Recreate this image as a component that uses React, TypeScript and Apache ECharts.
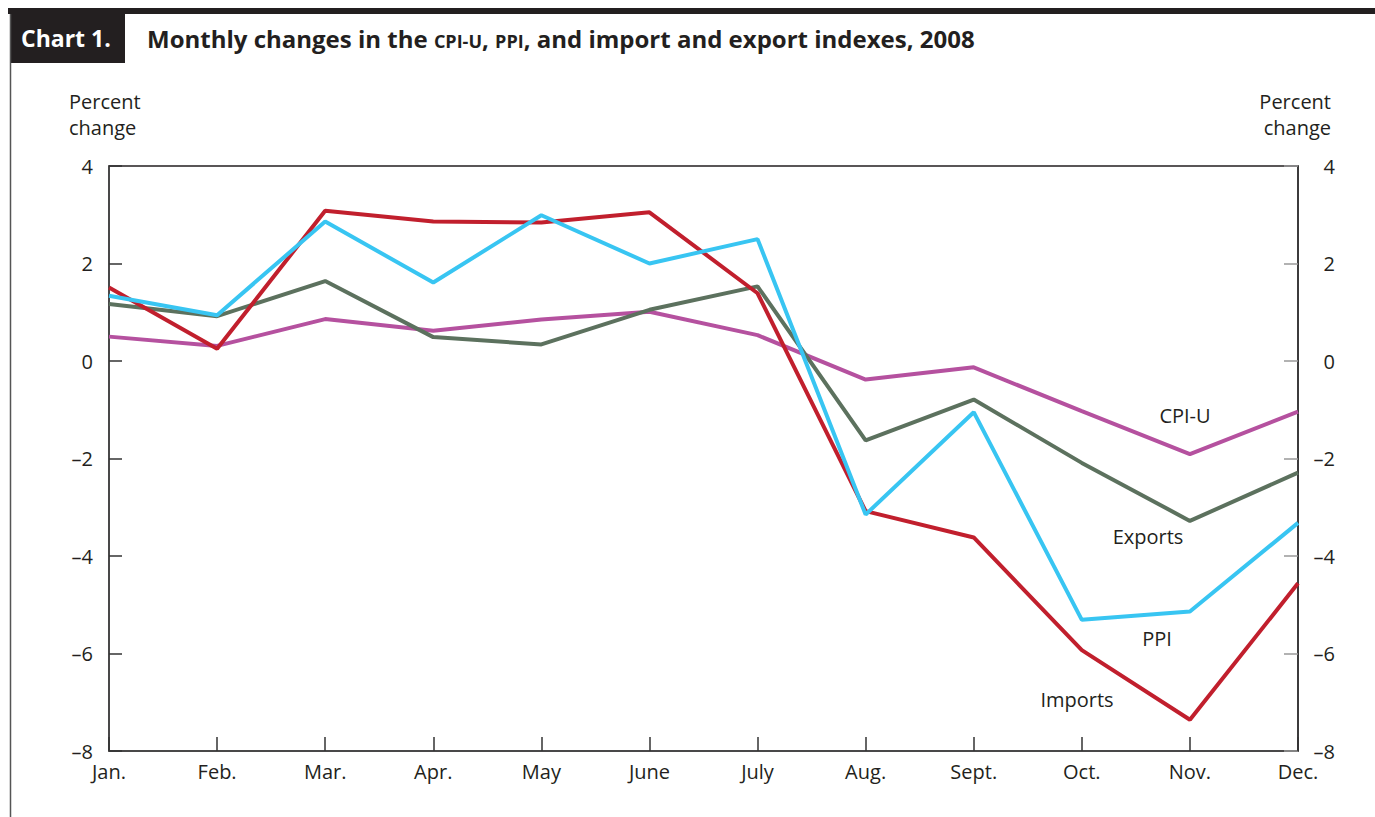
import React, { useEffect, useRef } from "react";
import * as echarts from "echarts";

const months = ["Jan.", "Feb.", "Mar.", "Apr.", "May", "June", "July", "Aug.", "Sept.", "Oct.", "Nov.", "Dec."];
const cpiU = [0.5, 0.31, 0.86, 0.62, 0.85, 1.01, 0.53, -0.38, -0.13, -1.03, -1.91, -1.04];
const ppi = [1.34, 0.94, 2.86, 1.61, 2.99, 2.0, 2.5, -3.15, -1.05, -5.31, -5.14, -3.32];
const exportsIdx = [1.17, 0.92, 1.64, 0.49, 0.34, 1.05, 1.53, -1.63, -0.79, -2.09, -3.28, -2.29];
const importsIdx = [1.51, 0.25, 3.08, 2.86, 2.84, 3.05, 1.39, -3.08, -3.62, -5.93, -7.36, -4.56];

const FONT = "'Open Sans', 'Noto Sans', sans-serif";
const TXT = "#231f20";

export default function App() {
  const ref = useRef<HTMLDivElement>(null);
  useEffect(() => {
    if (!ref.current) return;
    const chart = echarts.init(ref.current, null, { renderer: "svg" });
    const fmt = (v: number) => (v < 0 ? "\u2013" + Math.abs(v) : String(v));
    const line = (name: string, data: number[], color: string) => ({
      name,
      type: "line",
      data,
      symbol: "none",
      lineStyle: { color, width: 4 },
      itemStyle: { color },
      z: 3,
    });
    chart.setOption({
      animation: false,
      textStyle: { fontFamily: FONT },
      grid: {
        left: 109,
        right: 77,
        top: 166,
        bottom: 66,
        show: true,
        borderColor: "#231f20",
        borderWidth: 1.5,
        backgroundColor: "transparent",
      },
      xAxis: {
        type: "category",
        data: months,
        boundaryGap: false,
        axisLine: { onZero: false, lineStyle: { color: "#444", width: 1.5 } },
        axisTick: { inside: true, length: 14, lineStyle: { color: "#333", width: 1.5 } },
        axisLabel: { color: TXT, fontSize: 20, fontFamily: FONT, margin: 10, interval: 0 },
        splitLine: { show: false },
      },
      yAxis: [
        {
          type: "value",
          position: "left",
          min: -8,
          max: 4,
          interval: 2,
          axisLine: { show: true, lineStyle: { color: "#444", width: 1.5 } },
          axisTick: { show: true, inside: true, length: 13, lineStyle: { color: "#333", width: 1.5 } },
          axisLabel: { color: TXT, fontSize: 20, fontFamily: FONT, margin: 16, formatter: fmt },
          splitLine: { show: false },
        },
        {
          type: "value",
          position: "right",
          min: -8,
          max: 4,
          interval: 2,
          axisLine: { show: true, lineStyle: { color: "#333", width: 1.5 } },
          axisTick: { show: true, inside: true, length: 14, lineStyle: { color: "#999", width: 1.5 } },
          axisLabel: { color: TXT, fontSize: 20, fontFamily: FONT, margin: 37, align: "right", formatter: fmt },
          splitLine: { show: false },
        },
      ],
      series: [
        line("CPI-U", cpiU, "#b5519f"),
        line("Exports", exportsIdx, "#5c715e"),
        line("Imports", importsIdx, "#c11f2d"),
        line("PPI", ppi, "#38c5f2"),
      ],
      graphic: [
        { type: "rect", shape: { x: 8, y: 8, width: 1367, height: 6 }, style: { fill: "#231f20" } },
        { type: "rect", shape: { x: 10, y: 14, width: 115, height: 49 }, style: { fill: "#231f20" } },
        { type: "line", shape: { x1: 10.5, y1: 14, x2: 10.5, y2: 817 }, style: { stroke: "#555", lineWidth: 1.5 } },
        {
          type: "text",
          x: 21,
          y: 38,
          style: {
            text: "Chart 1.",
            fill: "#fff",
            font: `bold 23px ${FONT}`,
            verticalAlign: "middle",
          },
        },
        {
          type: "text",
          x: 147,
          y: 35,
          style: {
            text: "{a|Monthly changes in the }{b|CPI-U}{a|, }{b|PPI}{a|, and import and export indexes, 2008}",
            verticalAlign: "middle",
            rich: {
              a: { fill: TXT, fontSize: 24, fontWeight: "bold", fontFamily: FONT, verticalAlign: "bottom", lineHeight: 30 },
              b: { fill: TXT, fontSize: 18, fontWeight: "bold", fontFamily: FONT, verticalAlign: "bottom", lineHeight: 26 },
            },
          },
        },
        {
          type: "text",
          x: 69,
          y: 88,
          style: { text: "Percent\nchange", fill: TXT, font: `20px ${FONT}`, lineHeight: 26, align: "left" },
        },
        {
          type: "text",
          x: 1331,
          y: 88,
          style: { text: "Percent\nchange", fill: TXT, font: `20px ${FONT}`, lineHeight: 26, align: "right" },
        },
        { type: "text", x: 1185, y: 415, style: { text: "CPI-U", fill: TXT, font: `20px ${FONT}`, align: "center", verticalAlign: "middle" } },
        { type: "text", x: 1148, y: 536, style: { text: "Exports", fill: TXT, font: `20px ${FONT}`, align: "center", verticalAlign: "middle" } },
        { type: "text", x: 1157, y: 638, style: { text: "PPI", fill: TXT, font: `20px ${FONT}`, align: "center", verticalAlign: "middle" } },
        { type: "text", x: 1077, y: 699, style: { text: "Imports", fill: TXT, font: `20px ${FONT}`, align: "center", verticalAlign: "middle" } },
      ],
    });
    return () => chart.dispose();
  }, []);
  return (
    <div
      ref={ref}
      style={{ position: "fixed", left: 0, top: 0, width: 1375, height: 817, background: "#fff" }}
    />
  );
}
